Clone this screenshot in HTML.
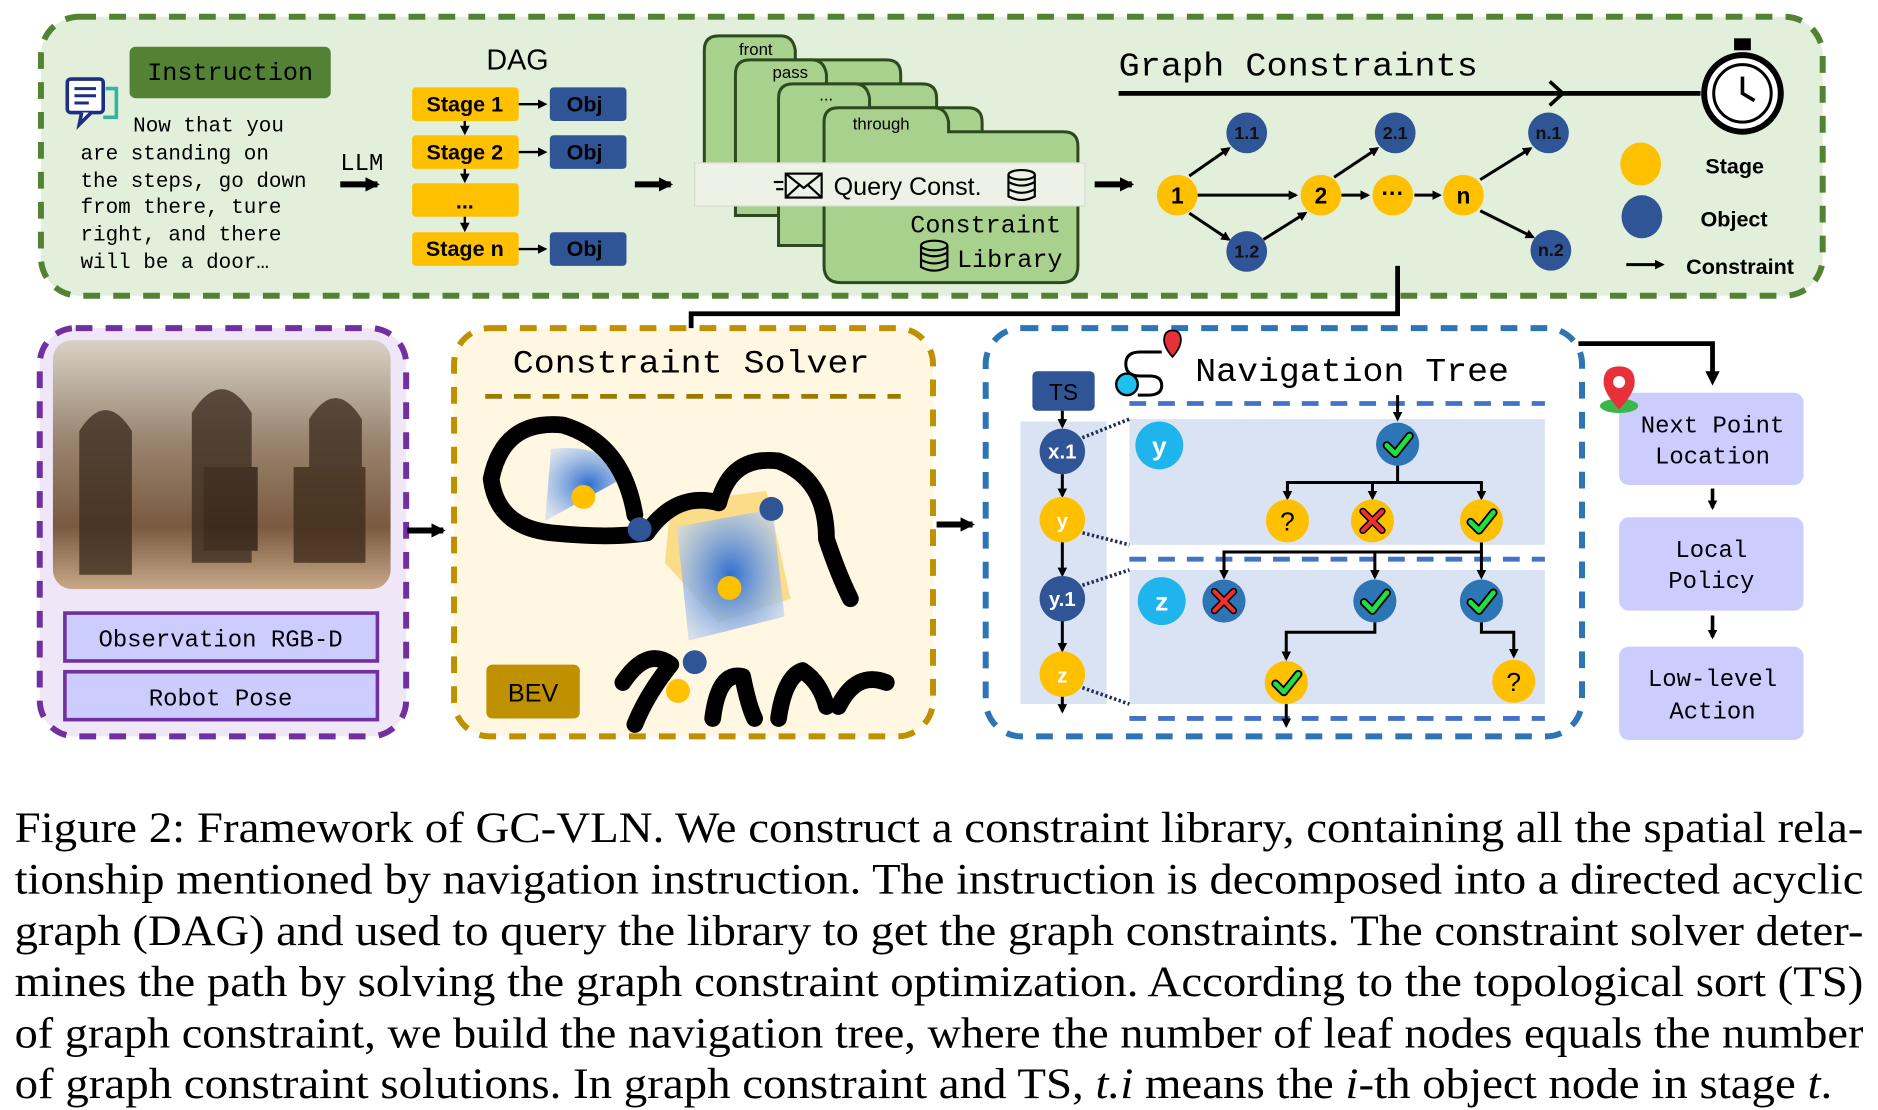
<!DOCTYPE html>
<html><head><meta charset="utf-8"><style>
html,body{margin:0;padding:0;background:#fff;}
svg{display:block}
.mono{font-family:"Liberation Mono","DejaVu Sans Mono",monospace;}
.sans{font-family:"Liberation Sans","DejaVu Sans",sans-serif;}
.serif{font-family:"Liberation Serif","DejaVu Serif",serif;}
</style></head><body>
<svg width="1878" height="1110" viewBox="0 0 1568 927" xmlns="http://www.w3.org/2000/svg">
<defs>
<marker id="ah" markerWidth="8" markerHeight="8" refX="6" refY="4" orient="auto" markerUnits="userSpaceOnUse"><path d="M0,0 L8,4 L0,8 z" fill="#000"/></marker>
<marker id="ahs" markerWidth="12" markerHeight="12" refX="10" refY="6" orient="auto" markerUnits="userSpaceOnUse"><path d="M0,0 L12,6 L0,12 z" fill="#000"/></marker>
<radialGradient id="bl" cx="0.5" cy="0.5" r="0.6"><stop offset="0" stop-color="#2f6fd0"/><stop offset="1" stop-color="#c8d8f0" stop-opacity="0.7"/></radialGradient>
<linearGradient id="ph" x1="0" y1="0" x2="0" y2="1"><stop offset="0" stop-color="#d8d2c6"/><stop offset="0.4" stop-color="#9a8570"/><stop offset="0.75" stop-color="#7a5a40"/><stop offset="1" stop-color="#c8a888"/></linearGradient>
</defs>

<!-- TOP PANEL -->
<rect x="34" y="14" width="1488" height="233" rx="32" fill="#e2efda" stroke="#548235" stroke-width="5" stroke-dasharray="14,11"/>
<rect x="108" y="39" width="168" height="43" rx="5" fill="#548235"/>
<text x="192" y="67" class="mono" font-size="21" text-anchor="middle">Instruction</text>
<rect x="56" y="66" width="30" height="28" rx="3" fill="#fff" stroke="#1f2f80" stroke-width="3"/>
<path d="M68,94 L66,104 L76,94" fill="#fff" stroke="#1f2f80" stroke-width="3"/>
<path d="M88,74 L97,74 L97,98 L86,98" fill="none" stroke="#2fb5a0" stroke-width="3"/>
<line x1="62" y1="74" x2="80" y2="74" stroke="#1f2f80" stroke-width="2.5"/><line x1="62" y1="80" x2="80" y2="80" stroke="#1f2f80" stroke-width="2.5"/><line x1="62" y1="86" x2="74" y2="86" stroke="#1f2f80" stroke-width="2.5"/>
<g class="mono" font-size="17.5">
<text x="111" y="110">Now that you</text>
<text x="67" y="133">are standing on</text>
<text x="67" y="156">the steps, go down</text>
<text x="67" y="178">from there, ture</text>
<text x="67" y="201">right, and there</text>
<text x="67" y="224">will be a door…</text>
</g>
<text x="284" y="142" class="mono" font-size="20">LLM</text>
<line x1="284" y1="154" x2="315" y2="154" stroke="#000" stroke-width="5" marker-end="url(#ahs)"/>
<text x="432" y="58" class="sans" font-size="24" text-anchor="middle">DAG</text>
<g class="sans" font-size="18" font-weight="bold">
<rect x="344" y="73" width="89" height="28" rx="3" fill="#ffc000"/><text x="388" y="93" text-anchor="middle">Stage 1</text>
<rect x="344" y="113" width="89" height="28" rx="3" fill="#ffc000"/><text x="388" y="133" text-anchor="middle">Stage 2</text>
<rect x="344" y="153" width="89" height="28" rx="3" fill="#ffc000"/><text x="388" y="174" text-anchor="middle">...</text>
<rect x="344" y="194" width="89" height="28" rx="3" fill="#ffc000"/><text x="388" y="214" text-anchor="middle">Stage n</text>
<rect x="459" y="73" width="64" height="28" rx="3" fill="#2f5597"/><text x="488" y="93" text-anchor="middle">Obj</text>
<rect x="459" y="113" width="64" height="28" rx="3" fill="#2f5597"/><text x="488" y="133" text-anchor="middle">Obj</text>
<rect x="459" y="194" width="64" height="28" rx="3" fill="#2f5597"/><text x="488" y="214" text-anchor="middle">Obj</text>
</g>
<g stroke="#000" stroke-width="2" marker-end="url(#ah)">
<line x1="433" y1="87" x2="455" y2="87"/><line x1="433" y1="127" x2="455" y2="127"/><line x1="433" y1="208" x2="455" y2="208"/>
<line x1="388" y1="101" x2="388" y2="111"/><line x1="388" y1="141" x2="388" y2="151"/><line x1="388" y1="181" x2="388" y2="192"/>
</g>
<line x1="530" y1="154" x2="560" y2="154" stroke="#000" stroke-width="5" marker-end="url(#ahs)"/>
<g fill="#a9d18e" stroke="#2d4a1e" stroke-width="2.5">
<path d="M588,140 L588,42 Q588,30 600,30 L652,30 Q662,30 664,42 L664,50 L740,50 Q752,50 752,62 L752,160 Z"/>
<path d="M614,180 L614,62 Q614,50 626,50 L678,50 Q688,50 690,62 L690,70 L770,70 Q782,70 782,82 L782,180 Z"/>
<path d="M650,205 L650,82 Q650,70 662,70 L714,70 Q724,70 726,82 L726,90 L808,90 Q820,90 820,102 L820,205 Z"/>
<path d="M688,222 L688,102 Q688,90 700,90 L780,90 Q790,90 792,102 L792,110 L888,110 Q900,110 900,122 L900,222 Q900,236 886,236 L702,236 Q688,236 688,222 Z"/>
</g>
<g class="sans" font-size="14">
<text x="617" y="46">front</text><text x="645" y="65">pass</text><text x="684" y="84">...</text><text x="712" y="108">through</text>
</g>
<rect x="580" y="136" width="326" height="36" fill="#eef2e6" stroke="#d8dccf"/>
<g fill="none" stroke="#000" stroke-width="1.8">
<rect x="656" y="145" width="30" height="20"/><path d="M656,145 L671,157 L686,145 M656,165 L668,154 M686,165 L674,154"/>
<line x1="646" y1="152" x2="654" y2="152"/><line x1="648" y1="158" x2="654" y2="158"/>
<ellipse cx="853" cy="146" rx="11" ry="4"/><path d="M842,146 L842,164 Q853,170 864,164 L864,146 M842,152 Q853,158 864,152 M842,158 Q853,164 864,158"/>
<ellipse cx="780" cy="205" rx="11" ry="4"/><path d="M769,205 L769,223 Q780,229 791,223 L791,205 M769,211 Q780,217 791,211 M769,217 Q780,223 791,217"/>
</g>
<text x="696" y="163" class="sans" font-size="21">Query Const.</text>
<text x="760" y="194" class="mono" font-size="21">Constraint</text>
<text x="799" y="223" class="mono" font-size="21">Library</text>
<line x1="914" y1="154" x2="945" y2="154" stroke="#000" stroke-width="5" marker-end="url(#ahs)"/>
<text x="934" y="63" class="mono" font-size="28" textLength="300" lengthAdjust="spacingAndGlyphs">Graph Constraints</text>
<line x1="934" y1="78" x2="1420" y2="78" stroke="#000" stroke-width="4"/>
<path d="M1294,68 L1305,78 L1294,88" fill="none" stroke="#000" stroke-width="3"/>
<circle cx="1455" cy="78" r="32" fill="#fff" stroke="#000" stroke-width="5"/>
<circle cx="1455" cy="78" r="24" fill="none" stroke="#000" stroke-width="2.5"/>
<rect x="1448" y="32" width="14" height="10" fill="#000"/>
<path d="M1455,64 L1455,78 L1465,84" fill="none" stroke="#000" stroke-width="3"/>
<g stroke="#000" stroke-width="2.5" marker-end="url(#ah)">
<line x1="1000" y1="163" x2="1082" y2="163"/><line x1="1120" y1="163" x2="1142" y2="163"/><line x1="1181" y1="163" x2="1202" y2="163"/>
<line x1="993" y1="147" x2="1026" y2="124"/><line x1="993" y1="178" x2="1026" y2="200"/>
<line x1="1055" y1="200" x2="1090" y2="178"/><line x1="1114" y1="148" x2="1150" y2="124"/>
<line x1="1236" y1="150" x2="1278" y2="124"/><line x1="1236" y1="176" x2="1280" y2="198"/>
</g>
<g class="sans" font-weight="bold" text-anchor="middle">
<g fill="#ffc000"><circle cx="983" cy="163" r="17"/><circle cx="1103" cy="163" r="17"/><circle cx="1163" cy="163" r="17"/><circle cx="1222" cy="163" r="17"/></g>
<g font-size="19"><text x="983" y="170">1</text><text x="1103" y="170">2</text><text x="1163" y="168">···</text><text x="1222" y="170">n</text></g>
<g fill="#2f5597"><circle cx="1041" cy="111" r="17"/><circle cx="1041" cy="210" r="17"/><circle cx="1165" cy="111" r="17"/><circle cx="1293" cy="111" r="17"/><circle cx="1295" cy="209" r="17"/></g>
<g font-size="15"><text x="1041" y="116" fill="#111">1.1</text><text x="1041" y="215" fill="#111">1.2</text><text x="1165" y="116" fill="#111">2.1</text><text x="1293" y="116" fill="#111">n.1</text><text x="1295" y="214" fill="#111">n.2</text></g>
</g>
<ellipse cx="1370" cy="137" rx="17" ry="18" fill="#ffc000"/><ellipse cx="1371" cy="181" rx="17" ry="18" fill="#2f5597"/>
<line x1="1358" y1="221" x2="1388" y2="221" stroke="#000" stroke-width="2.5" marker-end="url(#ah)"/>
<g class="sans" font-weight="bold" font-size="18"><text x="1424" y="145">Stage</text><text x="1420" y="189">Object</text><text x="1408" y="229">Constraint</text></g>
<path d="M1167,222 L1167,262 L577,262 L577,280" fill="none" stroke="#000" stroke-width="4"/>
<path d="M571,278 L577,290 L583,278 z" fill="#000"/>

<!-- PURPLE PANEL -->
<rect x="33" y="274" width="306" height="341" rx="30" fill="#efe6f7" stroke="#7030a0" stroke-width="5" stroke-dasharray="14,11"/>
<rect x="44" y="284" width="282" height="208" rx="16" fill="url(#ph)"/>
<g fill="#3a2a1e" opacity="0.75"><path d="M66,480 L66,360 Q88,325 110,360 L110,480Z"/><path d="M160,470 L160,345 Q185,305 210,345 L210,470Z"/><path d="M258,470 L258,350 Q280,315 302,350 L302,470Z"/><rect x="170" y="390" width="45" height="70" fill="#2a1c12"/><rect x="245" y="390" width="60" height="80" fill="#3b2818"/></g>
<rect x="54" y="512" width="261" height="40" fill="#ccccff" stroke="#7030a0" stroke-width="3"/>
<rect x="54" y="561" width="261" height="40" fill="#ccccff" stroke="#7030a0" stroke-width="3"/>
<text x="184" y="540" class="mono" font-size="20" text-anchor="middle">Observation RGB-D</text>
<text x="184" y="589" class="mono" font-size="20" text-anchor="middle">Robot Pose</text>
<line x1="340" y1="443" x2="370" y2="443" stroke="#000" stroke-width="5" marker-end="url(#ahs)"/>

<!-- YELLOW PANEL -->
<rect x="379" y="274" width="400" height="341" rx="30" fill="#fff7e1" stroke="#bf9000" stroke-width="5" stroke-dasharray="14,11"/>
<text x="577" y="311" class="mono" font-size="27" text-anchor="middle" textLength="298" lengthAdjust="spacingAndGlyphs">Constraint Solver</text>
<line x1="405" y1="331" x2="752" y2="331" stroke="#9c7a00" stroke-width="4" stroke-dasharray="14,10"/>
<path d="M455,435 L460,375 Q500,370 528,395 Z" fill="url(#bl)"/>
<path d="M560,420 L640,410 L660,500 L600,520 L555,470 Z" fill="#f7c842" opacity="0.55"/>
<path d="M565,440 L645,425 L655,515 L575,535 Z" fill="url(#bl)"/>
<g fill="none" stroke="#000" stroke-width="14" stroke-linecap="round" stroke-linejoin="round">
<path d="M530,430 Q520,370 470,355 Q420,350 410,400 Q415,440 460,445 Q510,450 540,445"/>
<path d="M540,445 Q565,410 600,420 Q610,380 650,385 Q690,400 690,450 Q700,480 710,500"/>
<path d="M520,570 Q540,540 560,555 Q540,580 530,605"/>
<path d="M595,600 Q600,560 620,565 Q625,590 630,600"/>
<path d="M650,600 Q655,565 670,560 Q685,570 690,590"/>
<path d="M700,590 Q715,560 740,570" />
</g>
<g fill="#ffc000"><circle cx="487" cy="415" r="10"/><circle cx="609" cy="491" r="10"/><circle cx="566" cy="577" r="10"/></g>
<g fill="#2f5597"><circle cx="534" cy="442" r="10"/><circle cx="644" cy="425" r="10"/><circle cx="580" cy="553" r="10"/></g>
<rect x="406" y="555" width="78" height="45" rx="5" fill="#bf9000"/>
<text x="445" y="586" class="sans" font-size="21" text-anchor="middle">BEV</text>
<line x1="782" y1="438" x2="812" y2="438" stroke="#000" stroke-width="5" marker-end="url(#ahs)"/>

<!-- BLUE PANEL -->
<rect x="823" y="274" width="498" height="341" rx="30" fill="#fff" stroke="#2e75b6" stroke-width="5" stroke-dasharray="14,11"/>
<path d="M970,294 L952,294 Q940,294 940,304 Q940,314 952,314 L960,314 Q970,314 970,322 Q970,330 958,330 L950,330" fill="none" stroke="#000" stroke-width="2.5"/>
<circle cx="941" cy="321" r="9" fill="#1fbfef" stroke="#000" stroke-width="2"/>
<path d="M979,276 Q972,276 972,284 Q972,290 979,298 Q986,290 986,284 Q986,276 979,276Z" fill="#e8303a" stroke="#000" stroke-width="1.5"/>
<text x="998" y="318" class="mono" font-size="28" textLength="262" lengthAdjust="spacingAndGlyphs">Navigation Tree</text>
<rect x="862" y="310" width="52" height="33" rx="4" fill="#2f5597"/>
<text x="888" y="334" class="sans" font-size="19" text-anchor="middle">TS</text>
<rect x="852" y="352" width="72" height="236" fill="#dae3f3"/>
<rect x="943" y="350" width="347" height="105" fill="#dae3f3"/>
<rect x="943" y="476" width="347" height="112" fill="#dae3f3"/>
<g stroke="#4472c4" stroke-width="4" stroke-dasharray="14,10"><line x1="943" y1="337" x2="1290" y2="337"/><line x1="943" y1="467" x2="1290" y2="467"/><line x1="943" y1="600" x2="1290" y2="600"/></g>
<g stroke="#1f3050" stroke-width="3" stroke-dasharray="2,2"><line x1="900" y1="367" x2="943" y2="350"/><line x1="900" y1="444" x2="943" y2="455"/><line x1="900" y1="490" x2="943" y2="476"/><line x1="900" y1="573" x2="943" y2="588"/></g>
<g stroke="#000" stroke-width="2.5" fill="none">
<line x1="887" y1="343" x2="887" y2="356" marker-end="url(#ah)"/><line x1="887" y1="396" x2="887" y2="414" marker-end="url(#ah)"/><line x1="887" y1="452" x2="887" y2="480" marker-end="url(#ah)"/><line x1="887" y1="518" x2="887" y2="543" marker-end="url(#ah)"/><line x1="887" y1="581" x2="887" y2="594" marker-end="url(#ah)"/>
<line x1="1167" y1="330" x2="1167" y2="350" marker-end="url(#ah)"/>
<path d="M1167,388 L1167,403 L1075,403 L1075,416" marker-end="url(#ah)"/><line x1="1146" y1="403" x2="1146" y2="416" marker-end="url(#ah)"/><path d="M1167,403 L1237,403 L1237,416" marker-end="url(#ah)"/>
<path d="M1237,453 L1237,461 L1022,461 L1022,482" marker-end="url(#ah)"/><line x1="1148" y1="461" x2="1148" y2="482" marker-end="url(#ah)"/><line x1="1237" y1="461" x2="1237" y2="482" marker-end="url(#ah)"/>
<path d="M1148,519 L1148,528 L1074,528 L1074,550" marker-end="url(#ah)"/><path d="M1237,519 L1237,528 L1264,528 L1264,548" marker-end="url(#ah)"/>
<line x1="1074" y1="588" x2="1074" y2="606" marker-end="url(#ah)"/>
</g>
<g class="sans" font-weight="bold" font-size="17" text-anchor="middle">
<circle cx="887" cy="377" r="19" fill="#2f5597"/><text x="887" y="383" fill="#fff">x.1</text>
<circle cx="887" cy="434" r="19" fill="#ffc000"/><text x="887" y="441" fill="#fff">y</text>
<circle cx="887" cy="500" r="19" fill="#2f5597"/><text x="887" y="506" fill="#fff">y.1</text>
<circle cx="887" cy="563" r="19" fill="#ffc000"/><text x="887" y="570" fill="#fff">z</text>
<circle cx="968" cy="372" r="20" fill="#1fb4ec"/><text x="968" y="380" fill="#fff" font-size="22">y</text>
<circle cx="970" cy="502" r="20" fill="#1fb4ec"/><text x="970" y="510" fill="#fff" font-size="22">z</text>
</g>
<g>
<circle cx="1167" cy="371" r="18" fill="#2e75b6"/>
<circle cx="1075" cy="435" r="18" fill="#ffc000"/>
<circle cx="1146" cy="435" r="18" fill="#ffc000"/>
<circle cx="1237" cy="435" r="18" fill="#ffc000"/>
<circle cx="1022" cy="502" r="18" fill="#2e75b6"/>
<circle cx="1148" cy="502" r="18" fill="#2e75b6"/>
<circle cx="1237" cy="502" r="18" fill="#2e75b6"/>
<circle cx="1074" cy="570" r="18" fill="#ffc000"/>
<circle cx="1264" cy="569" r="18" fill="#ffc000"/>
</g>
<g fill="none" stroke-linecap="round" stroke-linejoin="round">
<g stroke="#000" stroke-width="7"><path d="M1158,372 L1165,379 L1177,364"/><path d="M1228,436 L1235,443 L1247,428"/><path d="M1139,503 L1146,510 L1158,495"/><path d="M1228,503 L1235,510 L1247,495"/><path d="M1065,571 L1072,578 L1084,563"/></g>
<g stroke="#22dd44" stroke-width="4"><path d="M1158,372 L1165,379 L1177,364"/><path d="M1228,436 L1235,443 L1247,428"/><path d="M1139,503 L1146,510 L1158,495"/><path d="M1228,503 L1235,510 L1247,495"/><path d="M1065,571 L1072,578 L1084,563"/></g>
<g stroke="#000" stroke-width="6"><path d="M1138,427 L1154,443 M1154,427 L1138,443"/><path d="M1014,494 L1030,510 M1030,494 L1014,510"/></g>
<g stroke="#f03030" stroke-width="3.5"><path d="M1138,427 L1154,443 M1154,427 L1138,443"/><path d="M1014,494 L1030,510 M1030,494 L1014,510"/></g>
</g>
<text x="1075" y="443" class="sans" font-size="22" text-anchor="middle">?</text>
<text x="1264" y="577" class="sans" font-size="22" text-anchor="middle">?</text>

<!-- RIGHT COLUMN -->
<path d="M1318,287 L1430,287 L1430,312" fill="none" stroke="#000" stroke-width="4"/>
<path d="M1424,310 L1430,322 L1436,310 z" fill="#000"/>
<rect x="1352" y="328" width="154" height="77" rx="8" fill="#ccccff"/>
<rect x="1352" y="432" width="154" height="78" rx="8" fill="#ccccff"/>
<rect x="1352" y="540" width="154" height="78" rx="8" fill="#ccccff"/>
<ellipse cx="1352" cy="339" rx="16" ry="6" fill="#3cb54a"/>
<path d="M1352,306 Q1339,306 1339,319 Q1339,328 1352,342 Q1365,328 1365,319 Q1365,306 1352,306Z" fill="#e8303a"/>
<circle cx="1352" cy="319" r="5" fill="#fff"/>
<g class="mono" font-size="20" text-anchor="middle">
<text x="1430" y="361">Next Point</text><text x="1430" y="387">Location</text>
<text x="1429" y="465">Local</text><text x="1429" y="491">Policy</text>
<text x="1430" y="573">Low-level</text><text x="1430" y="600">Action</text>
</g>
<line x1="1430" y1="408" x2="1430" y2="424" stroke="#000" stroke-width="3" marker-end="url(#ah)"/>
<line x1="1430" y1="514" x2="1430" y2="532" stroke="#000" stroke-width="3" marker-end="url(#ah)"/>

<!-- CAPTION -->
<g class="serif" font-size="36">
<text x="12" y="703" textLength="1544" lengthAdjust="spacingAndGlyphs">Figure 2: Framework of GC-VLN. We construct a constraint library, containing all the spatial rela-</text>
<text x="12" y="746" textLength="1544" lengthAdjust="spacingAndGlyphs">tionship mentioned by navigation instruction. The instruction is decomposed into a directed acyclic</text>
<text x="12" y="789" textLength="1544" lengthAdjust="spacingAndGlyphs">graph (DAG) and used to query the library to get the graph constraints. The constraint solver deter-</text>
<text x="12" y="832" textLength="1544" lengthAdjust="spacingAndGlyphs">mines the path by solving the graph constraint optimization. According to the topological sort (TS)</text>
<text x="12" y="875" textLength="1544" lengthAdjust="spacingAndGlyphs">of graph constraint, we build the navigation tree, where the number of leaf nodes equals the number</text>
<text x="12" y="917" textLength="1518" lengthAdjust="spacingAndGlyphs">of graph constraint solutions. In graph constraint and TS, <tspan font-style="italic">t.i</tspan> means the <tspan font-style="italic">i</tspan>-th object node in stage <tspan font-style="italic">t</tspan>.</text>
</g>
</svg>
</body></html>
